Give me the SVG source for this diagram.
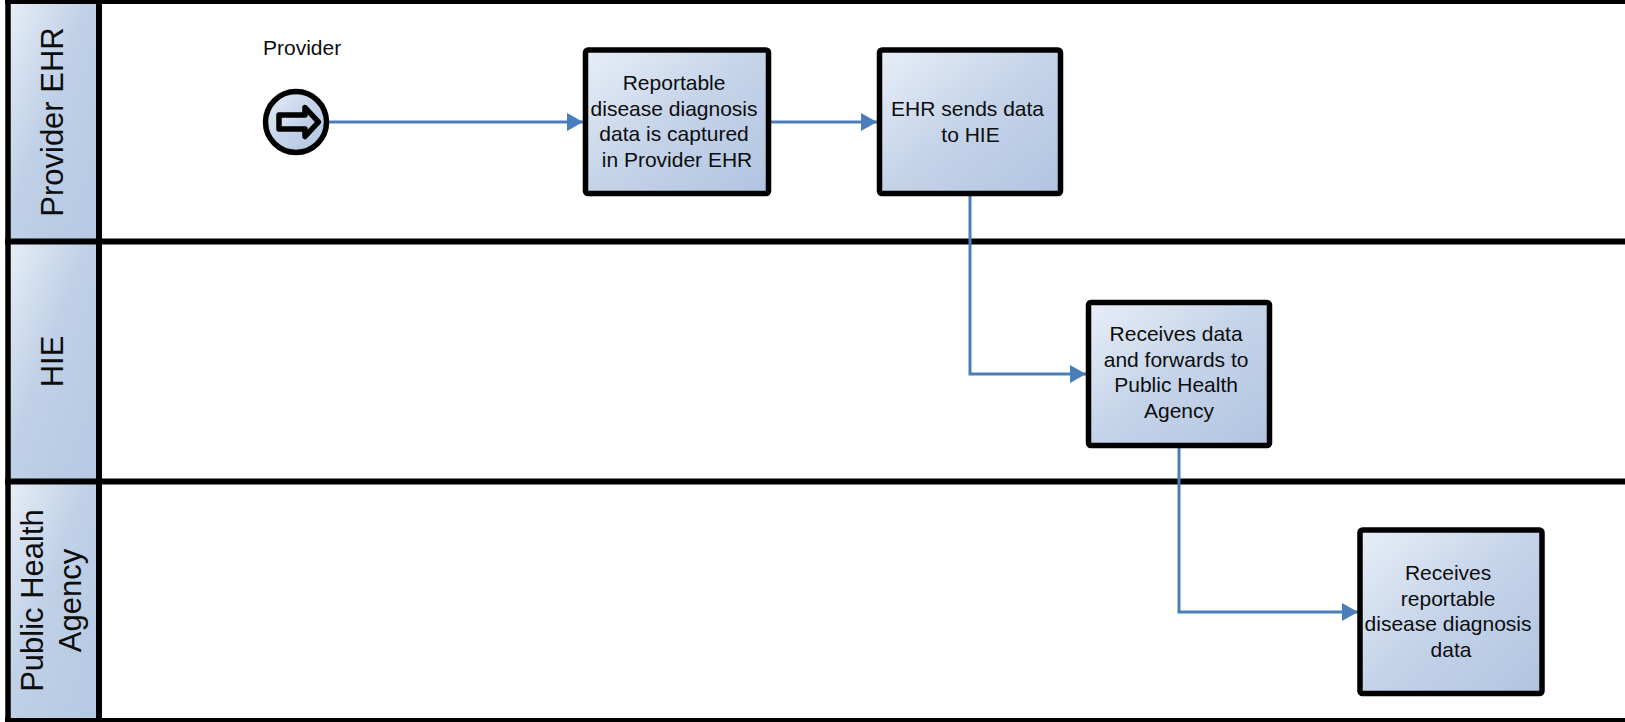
<svg xmlns="http://www.w3.org/2000/svg" width="1625" height="722" viewBox="0 0 1625 722">
  <style>
    .lbl { font-family: "Liberation Sans", Arial, sans-serif; fill: #0d0d0d; }
    .lane-t { font-size: 31px; text-anchor: middle; }
    .box-t { font-size: 21px; text-anchor: middle; }
    .box { fill: url(#boxGrad); stroke: #000; stroke-width: 5.5; }
    .hdr { fill: url(#hdrGrad); stroke: none; }
    .frame { stroke: #000; fill: none; }
    .conn { fill: none; stroke: #4a7ebb; stroke-width: 3; marker-end: url(#arr); }
  </style>
  <defs>
    <linearGradient id="boxGrad" x1="0" y1="0" x2="1" y2="1">
      <stop offset="0" stop-color="#e8eef7"/>
      <stop offset="0.5" stop-color="#c4d3e9"/>
      <stop offset="1" stop-color="#b1c4e0"/>
    </linearGradient>
    <linearGradient id="hdrGrad" x1="0" y1="0" x2="1" y2="1">
      <stop offset="0" stop-color="#e6edf6"/>
      <stop offset="0.45" stop-color="#bfd0e7"/>
      <stop offset="1" stop-color="#b6c9e3"/>
    </linearGradient>
    <marker id="arr" markerUnits="userSpaceOnUse" markerWidth="17" markerHeight="18" refX="16" refY="9" orient="auto">
      <path d="M0,0 L16,9 L0,18 Z" fill="#4a7ebb"/>
    </marker>
  </defs>

  <rect x="0" y="0" width="1625" height="722" fill="#fff"/>

  <g id="lanes">
    <g id="lane-provider-ehr">
      <rect class="hdr" x="10" y="4" width="87" height="235"/>
      <text class="lbl lane-t" transform="translate(52,122) rotate(-90)" x="0" y="11">Provider EHR</text>
    </g>
    <g id="lane-hie">
      <rect class="hdr" x="10" y="244" width="87" height="235"/>
      <text class="lbl lane-t" transform="translate(52,361.5) rotate(-90)" x="0" y="11">HIE</text>
    </g>
    <g id="lane-pha">
      <rect class="hdr" x="10" y="484" width="87" height="234"/>
      <text class="lbl lane-t" transform="translate(54,600.5) rotate(-90)" x="0" y="-11">Public Health</text>
      <text class="lbl lane-t" transform="translate(54,600.5) rotate(-90)" x="0" y="27">Agency</text>
    </g>
    <g id="lane-lines">
      <line class="frame" x1="5" y1="2" x2="1625" y2="2" stroke-width="4"/>
      <line class="frame" x1="8" y1="0" x2="8" y2="722" stroke-width="5.5"/>
      <line class="frame" x1="99" y1="0" x2="99" y2="722" stroke-width="6"/>
      <line class="frame" x1="5" y1="241.5" x2="1625" y2="241.5" stroke-width="6"/>
      <line class="frame" x1="5" y1="481.5" x2="1625" y2="481.5" stroke-width="6"/>
      <line class="frame" x1="5" y1="720" x2="1625" y2="720" stroke-width="4"/>
    </g>
  </g>

  <g id="connectors">
    <path class="conn" d="M329,122 H583"/>
    <path class="conn" d="M771,122 H877"/>
    <path class="conn" d="M970,196 V374 H1086"/>
    <path class="conn" d="M1179,448 V612 H1358"/>
  </g>

  <g id="start-provider">
    <circle cx="296" cy="122" r="30.5" fill="url(#boxGrad)" stroke="#000" stroke-width="5.5"/>
    <path d="M279,115 H305 V107.5 L318.5,122 L305,136.5 V129 H279 Z" fill="url(#boxGrad)" stroke="#000" stroke-width="5.5" stroke-linejoin="round"/>
    <text class="lbl" x="263" y="55" font-size="21">Provider</text>
  </g>

  <g id="task-capture">
    <rect class="box" x="585.5" y="50" width="183" height="143.5" rx="2.5"/>
    <text class="lbl box-t" x="677">
      <tspan x="677" y="90">Reportable</tspan>
      <tspan x="677" y="115.5">disease diagnosis</tspan>
      <tspan x="677" y="141">data is captured</tspan>
      <tspan x="677" y="166.5">in Provider EHR</tspan>
    </text>
  </g>

  <g id="task-ehr-sends">
    <rect class="box" x="879.5" y="50" width="181" height="143.5" rx="2.5"/>
    <text class="lbl box-t" x="970.5">
      <tspan x="970.5" y="116">EHR sends data</tspan>
      <tspan x="970.5" y="141.5">to HIE</tspan>
    </text>
  </g>

  <g id="task-hie-forward">
    <rect class="box" x="1088.5" y="302.5" width="181" height="143" rx="2.5"/>
    <text class="lbl box-t" x="1179">
      <tspan x="1179" y="341">Receives data</tspan>
      <tspan x="1179" y="366.5">and forwards to</tspan>
      <tspan x="1179" y="392">Public Health</tspan>
      <tspan x="1179" y="417.5">Agency</tspan>
    </text>
  </g>

  <g id="task-pha-receive">
    <rect class="box" x="1360" y="530" width="182" height="163.5" rx="2.5"/>
    <text class="lbl box-t" x="1451">
      <tspan x="1451" y="580">Receives</tspan>
      <tspan x="1451" y="605.5">reportable</tspan>
      <tspan x="1451" y="631">disease diagnosis</tspan>
      <tspan x="1451" y="656.5">data</tspan>
    </text>
  </g>
</svg>
